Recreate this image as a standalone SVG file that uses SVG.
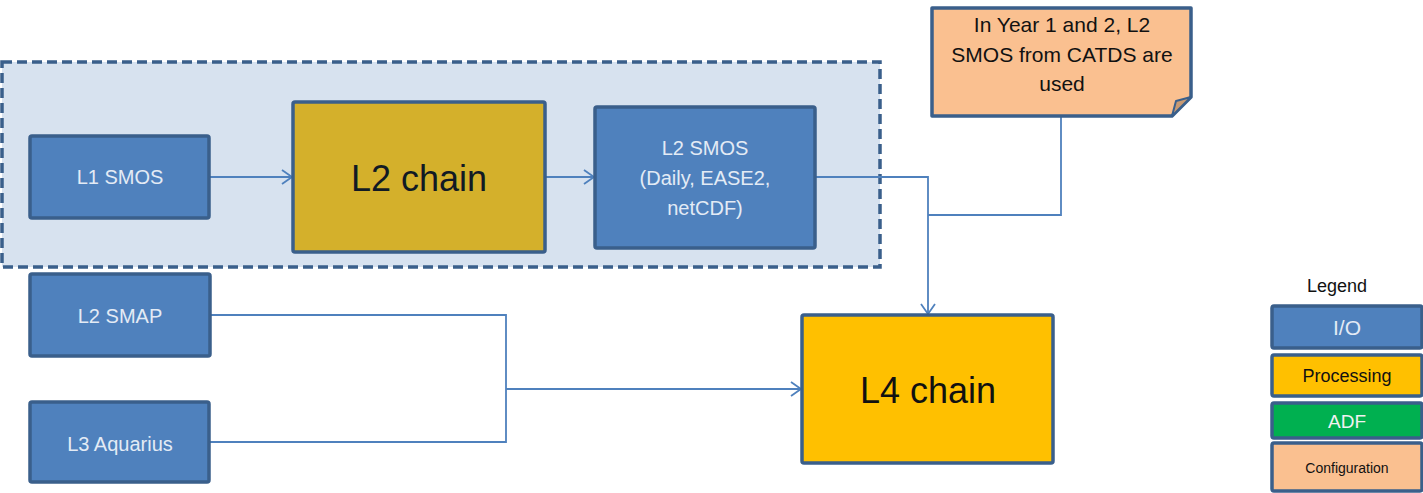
<svg xmlns="http://www.w3.org/2000/svg" width="1423" height="493" viewBox="0 0 1423 493">
<style>
.io{fill:#4F81BD;stroke:#3A5F8B;stroke-width:3.5}
.proc{fill:#FFC000;stroke:#3A5F8B;stroke-width:3.5}
.l2c{fill:#D4B02B;stroke:#3A5F8B;stroke-width:3.5}
.adf{fill:#00B050;stroke:#3A5F8B;stroke-width:3.5}
.cfg{fill:#FAC090;stroke:#3A5F8B;stroke-width:3.5}
.t{font-family:"Liberation Sans",Arial,sans-serif;text-anchor:middle}
.lt{fill:#E3EBF5}
.dk{fill:#111111}
.conn{fill:none;stroke:#4F81BD;stroke-width:1.8}
</style>
<defs>
<marker id="arr" markerUnits="userSpaceOnUse" markerWidth="14" markerHeight="16" refX="11" refY="8" orient="auto">
<path d="M1,1 L11,8 L1,15" fill="none" stroke="#4F81BD" stroke-width="1.8"/>
</marker>
</defs>
<g id="group-l2">
<rect x="2" y="62" width="878" height="205" fill="#D7E2EF" stroke="#3A5F8B" stroke-width="3.5" stroke-dasharray="10 5"/>
</g>
<g id="connectors">
<line class="conn" x1="209" y1="177" x2="292" y2="177" marker-end="url(#arr)"/>
<line class="conn" x1="545" y1="177" x2="594" y2="177" marker-end="url(#arr)"/>
<polyline class="conn" points="815,177 928,177 928,314" marker-end="url(#arr)"/>
<polyline class="conn" points="1061,116 1061,215 928,215"/>
<polyline class="conn" points="210,315 506,315 506,442 209,442"/>
<line class="conn" x1="506" y1="389" x2="801" y2="389" marker-end="url(#arr)"/>
</g>
<g id="l1-smos">
<rect class="io" x="30" y="136" width="179" height="82" rx="2"/>
<text class="t lt" x="120" y="184" font-size="20">L1 SMOS</text>
</g>
<g id="l2-chain">
<rect class="l2c" x="293" y="102" width="252" height="150" rx="2"/>
<text class="t" x="419" y="191" font-size="36" fill="#111A24">L2 chain</text>
</g>
<g id="l2-smos">
<rect class="io" x="595" y="107" width="220" height="141" rx="2"/>
<text class="t lt" x="705" y="155" font-size="20">L2 SMOS</text>
<text class="t lt" x="705" y="185" font-size="20">(Daily, EASE2,</text>
<text class="t lt" x="705" y="215" font-size="20">netCDF)</text>
</g>
<g id="note">
<path d="M932,8 H1191 V97 L1172,116 H932 Z" fill="#FAC090" stroke="#3A5F8B" stroke-width="3.5" stroke-linejoin="round"/>
<path d="M1172,116 L1176,101 L1191,97 Z" fill="#C89A73" stroke="#3A5F8B" stroke-width="2" stroke-linejoin="round"/>
<text class="t dk" x="1062" y="32" font-size="21">In Year 1 and 2, L2</text>
<text class="t dk" x="1062" y="62" font-size="21">SMOS from CATDS are</text>
<text class="t dk" x="1062" y="91" font-size="21">used</text>
</g>
<g id="l2-smap">
<rect class="io" x="30" y="274" width="180" height="82" rx="2"/>
<text class="t lt" x="120" y="323" font-size="20">L2 SMAP</text>
</g>
<g id="l3-aquarius">
<rect class="io" x="30" y="402" width="179" height="80" rx="2"/>
<text class="t lt" x="120" y="451" font-size="20">L3 Aquarius</text>
</g>
<g id="l4-chain">
<rect class="proc" x="802" y="315" width="251" height="148" rx="2"/>
<text class="t dk" x="928" y="403" font-size="36">L4 chain</text>
</g>
<g id="legend">
<text class="t dk" x="1337" y="292" font-size="18">Legend</text>
<rect class="io" x="1272" y="306" width="150" height="42" rx="2"/>
<text class="t lt" x="1347" y="335" font-size="21">I/O</text>
<rect class="proc" x="1272" y="355" width="150" height="41" rx="2"/>
<text class="t dk" x="1347" y="382" font-size="18">Processing</text>
<rect class="adf" x="1272" y="403" width="150" height="35" rx="2"/>
<text class="t" x="1347" y="428" font-size="19" fill="#F2F2F2">ADF</text>
<rect class="cfg" x="1272" y="443" width="150" height="48" rx="2"/>
<text class="t dk" x="1347" y="473" font-size="14">Configuration</text>
</g>
</svg>
